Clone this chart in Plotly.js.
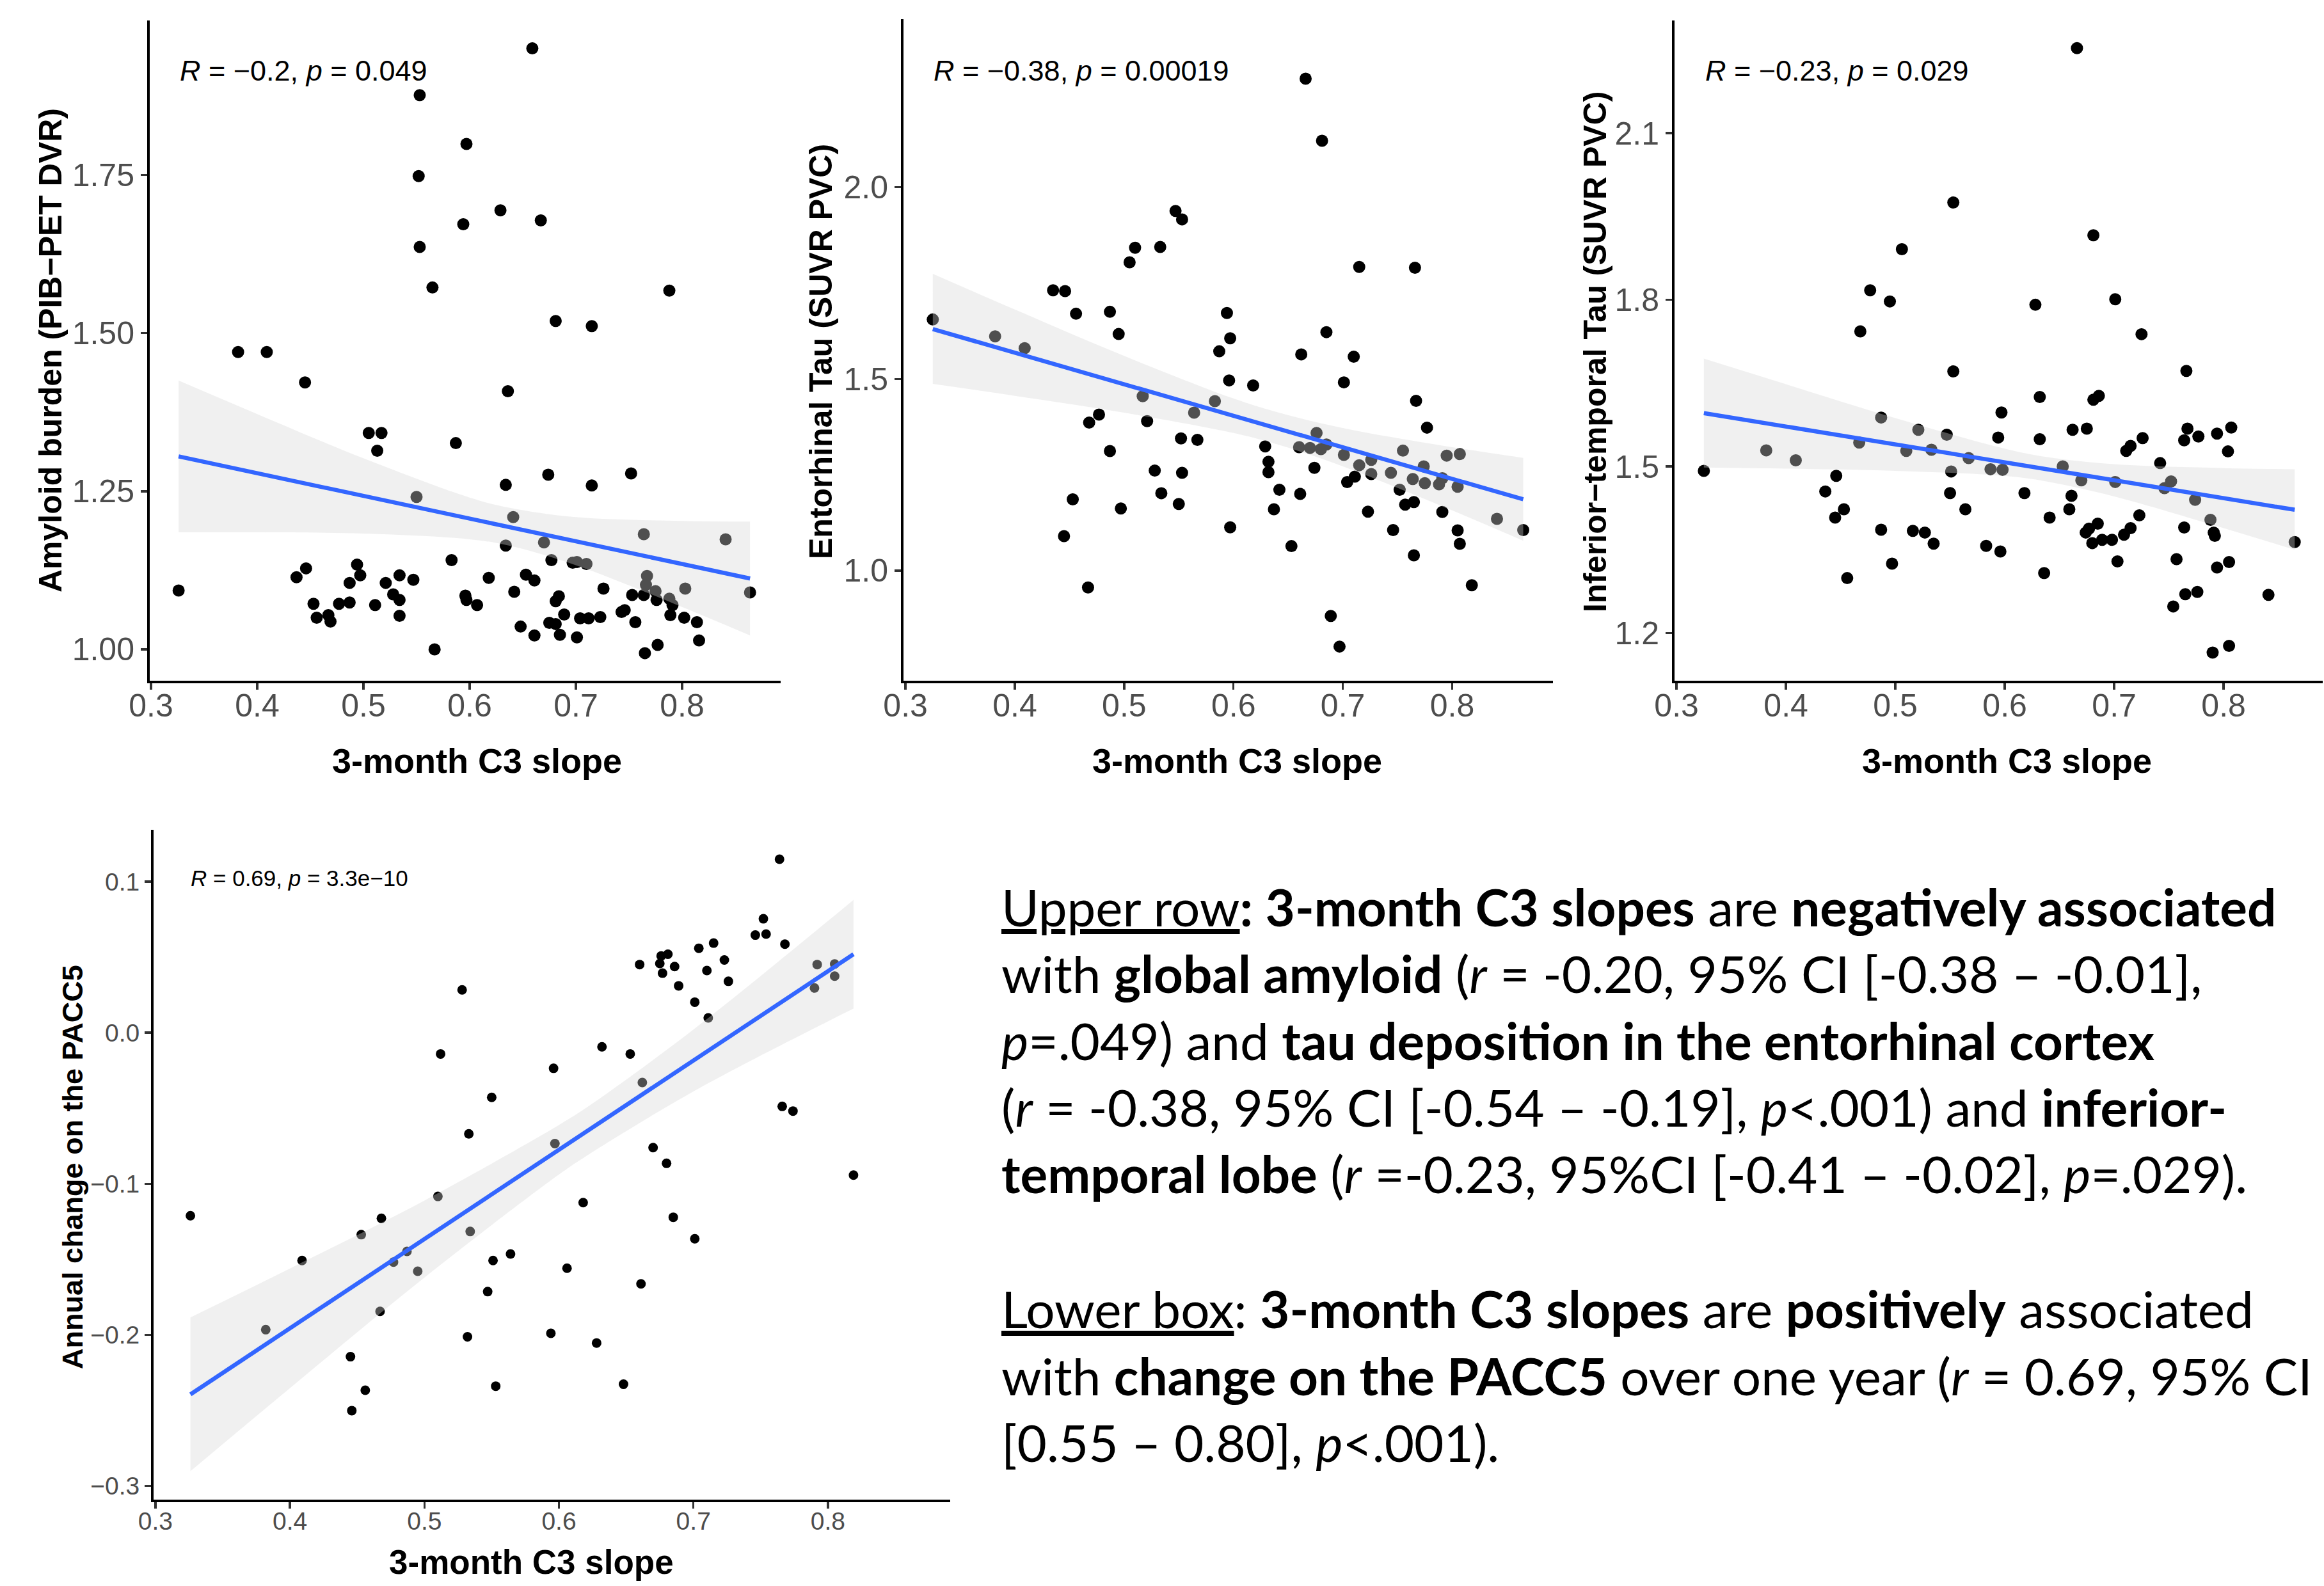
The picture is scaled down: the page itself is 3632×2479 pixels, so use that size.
<!DOCTYPE html>
<html>
<head>
<meta charset="utf-8">
<script src="https://cdn.plot.ly/plotly-3.0.1.min.js"></script>
<style>html,body{margin:0;padding:0;background:#fff;}#chart{width:3632px;height:2479px;}</style>
</head>
<body>
<div id="chart"></div>
<script>
// ---------- Panel 1: Amyloid burden ----------
const amyloidX = [0.659,0.553,0.597,0.552,0.629,0.594,0.667,0.553,0.565,0.788,0.681,0.715,0.382,0.409,0.445,0.636,0.505,0.517,0.513,0.587,0.674,0.752,0.634,0.715,0.550,0.641,0.764,0.841,0.634,0.670,0.677,0.697,0.701,0.710,0.583,0.326,0.437,0.446,0.453,0.456,0.467,0.469,0.477,0.487,0.487,0.494,0.497,0.511,0.521,0.528,0.534,0.534,0.534,0.547,0.567,0.596,0.597,0.607,0.618,0.642,0.653,0.661,0.648,0.661,0.675,0.681,0.681,0.684,0.689,0.685,0.701,0.704,0.712,0.723,0.726,0.743,0.746,0.753,0.756,0.764,0.765,0.767,0.766,0.775,0.776,0.777,0.788,0.791,0.789,0.802,0.803,0.814,0.816,0.864];
const amyloidY = [1.950,1.876,1.799,1.748,1.694,1.672,1.678,1.636,1.572,1.567,1.519,1.511,1.470,1.470,1.422,1.408,1.342,1.342,1.314,1.326,1.276,1.278,1.260,1.259,1.241,1.209,1.182,1.174,1.164,1.169,1.141,1.137,1.138,1.135,1.141,1.093,1.114,1.128,1.072,1.050,1.054,1.044,1.072,1.074,1.105,1.134,1.117,1.070,1.105,1.087,1.117,1.078,1.053,1.110,1.000,1.085,1.078,1.070,1.113,1.091,1.118,1.109,1.036,1.022,1.042,1.040,1.076,1.084,1.055,1.023,1.019,1.049,1.049,1.051,1.096,1.059,1.062,1.086,1.043,1.086,0.994,1.116,1.102,1.092,1.078,1.007,1.080,1.070,1.054,1.050,1.096,1.043,1.014,1.090];
const amyloidFitX = [0.326,0.864];
const amyloidFitY = [1.305,1.112];
const amyloidBandX = [0.326,0.4,0.5,0.6,0.637,0.7,0.8,0.864];
const amyloidBandUpper = [1.425,1.372,1.302,1.240,1.224,1.209,1.203,1.202];
const amyloidBandLower = [1.185,1.185,1.183,1.174,1.164,1.133,1.067,1.022];

// ---------- Panel 2: Entorhinal tau ----------
const entoX = [0.666,0.681,0.547,0.553,0.510,0.533,0.505,0.715,0.766,0.435,0.446,0.456,0.487,0.594,0.495,0.597,0.685,0.325,0.382,0.409,0.662,0.710,0.587,0.596,0.618,0.701,0.517,0.583,0.767,0.477,0.468,0.521,0.564,0.777,0.552,0.567,0.676,0.487,0.629,0.660,0.670,0.680,0.685,0.701,0.755,0.795,0.807,0.632,0.528,0.553,0.632,0.674,0.715,0.726,0.726,0.744,0.774,0.764,0.775,0.788,0.791,0.805,0.704,0.711,0.642,0.534,0.661,0.752,0.453,0.550,0.757,0.765,0.637,0.723,0.791,0.497,0.597,0.746,0.805,0.841,0.865,0.445,0.653,0.807,0.765,0.467,0.818,0.689,0.697];
const entoY = [2.283,2.121,1.938,1.916,1.842,1.844,1.804,1.792,1.790,1.731,1.729,1.670,1.675,1.672,1.617,1.606,1.622,1.655,1.611,1.580,1.564,1.558,1.572,1.496,1.483,1.491,1.455,1.442,1.443,1.407,1.386,1.390,1.412,1.373,1.345,1.341,1.359,1.312,1.324,1.322,1.320,1.317,1.329,1.302,1.313,1.300,1.304,1.284,1.261,1.255,1.257,1.268,1.275,1.289,1.252,1.255,1.272,1.239,1.228,1.225,1.241,1.219,1.231,1.245,1.211,1.202,1.200,1.211,1.186,1.174,1.172,1.179,1.160,1.154,1.153,1.162,1.113,1.106,1.105,1.135,1.106,1.090,1.064,1.070,1.040,0.956,0.962,0.882,0.802];
const entoFitX = [0.325,0.865];
const entoFitY = [1.630,1.186];
const entoBandX = [0.325,0.4,0.5,0.6,0.638,0.7,0.8,0.865];
const entoBandUpper = [1.774,1.681,1.560,1.449,1.415,1.372,1.322,1.294];
const entoBandLower = [1.487,1.456,1.412,1.359,1.331,1.272,1.157,1.078];

// ---------- Panel 3: Inferior-temporal tau ----------
const itX = [0.666,0.553,0.681,0.506,0.477,0.495,0.701,0.628,0.468,0.725,0.553,0.766,0.632,0.681,0.686,0.597,0.487,0.521,0.547,0.662,0.675,0.767,0.807,0.777,0.794,0.594,0.632,0.726,0.764,0.467,0.382,0.533,0.510,0.711,0.715,0.804,0.409,0.567,0.742,0.653,0.325,0.551,0.587,0.598,0.446,0.670,0.701,0.752,0.746,0.436,0.550,0.618,0.661,0.774,0.453,0.564,0.659,0.445,0.641,0.723,0.788,0.487,0.516,0.527,0.674,0.677,0.685,0.709,0.715,0.764,0.791,0.792,0.535,0.583,0.596,0.680,0.689,0.698,0.865,0.497,0.703,0.757,0.794,0.805,0.456,0.636,0.765,0.776,0.841,0.754,0.790,0.805];
const itY = [2.253,1.975,1.916,1.891,1.817,1.797,1.801,1.791,1.743,1.738,1.671,1.672,1.625,1.620,1.627,1.597,1.588,1.566,1.557,1.566,1.568,1.568,1.570,1.554,1.559,1.552,1.549,1.551,1.547,1.543,1.529,1.530,1.528,1.528,1.537,1.527,1.511,1.515,1.506,1.500,1.492,1.491,1.495,1.494,1.483,1.475,1.472,1.473,1.461,1.455,1.452,1.452,1.447,1.440,1.423,1.423,1.423,1.408,1.408,1.412,1.404,1.386,1.384,1.381,1.381,1.388,1.397,1.377,1.389,1.390,1.381,1.375,1.361,1.357,1.347,1.362,1.368,1.368,1.364,1.325,1.329,1.333,1.318,1.328,1.299,1.308,1.270,1.274,1.269,1.248,1.165,1.177];
const itFitX = [0.325,0.865];
const itFitY = [1.596,1.422];
const itBandX = [0.325,0.4,0.5,0.6,0.638,0.7,0.8,0.865];
const itBandUpper = [1.694,1.648,1.587,1.532,1.517,1.504,1.497,1.495];
const itBandLower = [1.498,1.496,1.492,1.483,1.473,1.446,1.389,1.350];

// ---------- Panel 4: PACC5 change ----------
const paccX = [0.764,0.752,0.746,0.754,0.768,0.715,0.704,0.681,0.676,0.675,0.660,0.686,0.677,0.710,0.723,0.726,0.689,0.528,0.701,0.711,0.792,0.805,0.805,0.790,0.632,0.653,0.512,0.596,0.662,0.550,0.766,0.774,0.533,0.597,0.670,0.680,0.819,0.510,0.618,0.326,0.468,0.685,0.534,0.453,0.701,0.564,0.487,0.409,0.477,0.551,0.495,0.606,0.661,0.547,0.467,0.382,0.594,0.532,0.628,0.445,0.648,0.553,0.456,0.446];
const paccY = [0.1148,0.0754,0.0646,0.0653,0.0586,0.0593,0.0559,0.0519,0.0508,0.0458,0.0451,0.0438,0.0394,0.0411,0.0481,0.0340,0.0310,0.0283,0.0202,0.0098,0.0451,0.0455,0.0374,0.0296,-0.0094,-0.0141,-0.0141,-0.0236,-0.0330,-0.0428,-0.0488,-0.0519,-0.0670,-0.0734,-0.0761,-0.0865,-0.0943,-0.1084,-0.1125,-0.1212,-0.1229,-0.1222,-0.1316,-0.1337,-0.1364,-0.1465,-0.1448,-0.1508,-0.1519,-0.1508,-0.1579,-0.1559,-0.1663,-0.1714,-0.1845,-0.1966,-0.1990,-0.2013,-0.2054,-0.2145,-0.2327,-0.2340,-0.2367,-0.2502];
const paccFitX = [0.326,0.819];
const paccFitY = [-0.2394,0.0519];
const paccBandX = [0.326,0.4,0.5,0.6,0.622,0.7,0.8,0.819];
const paccBandUpper = [-0.1885,-0.1561,-0.1111,-0.0611,-0.0487,0.0021,0.0739,0.0879];
const paccBandLower = [-0.2903,-0.2353,-0.1621,-0.0939,-0.0807,-0.0389,0.0075,0.0159];

// ---------- Ticks ----------
const xTickVals = [0.3,0.4,0.5,0.6,0.7,0.8];
const xTickText = ['0.3','0.4','0.5','0.6','0.7','0.8'];
const yTickVals1 = [1.00,1.25,1.50,1.75];
const yTickText1 = ['1.00','1.25','1.50','1.75'];
const yTickVals2 = [1.0,1.5,2.0];
const yTickText2 = ['1.0','1.5','2.0'];
const yTickVals3 = [1.2,1.5,1.8,2.1];
const yTickText3 = ['1.2','1.5','1.8','2.1'];
const yTickVals4 = [-0.3,-0.2,-0.1,0.0,0.1];
const yTickText4 = ['\u22120.3','\u22120.2','\u22120.1','0.0','0.1'];

const SANS = 'Liberation Sans, Arial, Helvetica, sans-serif';
const W = 3632, H = 2479;
const px = v => v / W;
const py = v => 1 - v / H;

function panelTraces(n, xs, ys, bx, bu, bl, fx, fy, msize) {
  const xa = n === 1 ? 'x' : 'x' + n, ya = n === 1 ? 'y' : 'y' + n;
  return [
    {type:'scatter', mode:'markers', x:xs, y:ys, xaxis:xa, yaxis:ya,
     marker:{color:'#000000', size:msize, line:{width:0}}, hoverinfo:'x+y', showlegend:false},
    {type:'scatter', mode:'lines', x:bx, y:bl, xaxis:xa, yaxis:ya,
     line:{width:0, shape:'spline', color:'rgba(0,0,0,0)'}, hoverinfo:'skip', showlegend:false},
    {type:'scatter', mode:'lines', x:bx, y:bu, xaxis:xa, yaxis:ya, fill:'tonexty',
     fillcolor:'rgba(214,214,214,0.37)', line:{width:0, shape:'spline', color:'rgba(0,0,0,0)'},
     hoverinfo:'skip', showlegend:false},
    {type:'scatter', mode:'lines', x:fx, y:fy, xaxis:xa, yaxis:ya,
     line:{color:'#3366FF', width:6.5}, hoverinfo:'skip', showlegend:false}
  ];
}

const data = [].concat(
  panelTraces(1, amyloidX, amyloidY, amyloidBandX, amyloidBandUpper, amyloidBandLower, amyloidFitX, amyloidFitY, 19),
  panelTraces(2, entoX, entoY, entoBandX, entoBandUpper, entoBandLower, entoFitX, entoFitY, 19),
  panelTraces(3, itX, itY, itBandX, itBandUpper, itBandLower, itFitX, itFitY, 19),
  panelTraces(4, paccX, paccY, paccBandX, paccBandUpper, paccBandLower, paccFitX, paccFitY, 15)
);

function axis(domain, range, anchor, vals, text, fsize, standoff) {
  return {domain:domain, range:range, anchor:anchor, showline:true, linecolor:'#000000', linewidth:4,
    ticks:'outside', ticklen:10, tickwidth:3.5, tickcolor:'#333333', tickmode:'array',
    tickvals:vals, ticktext:text, tickfont:{family:SANS, size:fsize, color:'#4D4D4D'},
    ticklabelstandoff: standoff || 0,
    showgrid:false, zeroline:false, fixedrange:true, layer:'above traces'};
}

const topY = [py(1064), py(32)];
const layout = {
  width: W, height: H, margin:{l:0, r:0, t:0, b:0, pad:0},
  paper_bgcolor:'#ffffff', plot_bgcolor:'rgba(0,0,0,0)', showlegend:false,
  font:{family:SANS, color:'#000000'},
  xaxis: axis([px(234), px(1220)], [0.2988, 0.8928], 'y', xTickVals, xTickText, 50, -18),
  yaxis: axis(topY, [0.9504, 1.9941], 'x', yTickVals1, yTickText1, 50),
  xaxis2: axis([px(1412), px(2427)], [0.2982, 0.8922], 'y2', xTickVals, xTickText, 50, -18),
  yaxis2: axis([py(1064), py(30)], [0.713, 2.438], 'x2', yTickVals2, yTickText2, 50),
  xaxis3: axis([px(2617), px(3630)], [0.2982, 0.8906], 'y3', xTickVals, xTickText, 50, -18),
  yaxis3: axis(topY, [1.1143, 2.3027], 'x3', yTickVals3, yTickText3, 50),
  xaxis4: axis([px(240), px(1485)], [0.2986, 0.8909], 'y4', xTickVals, xTickText, 39, -14),
  yaxis4: axis([py(2344), py(1297)], [-0.3091, 0.1343], 'x4', yTickVals4, yTickText4, 39),
  annotations: []
};

function ann(text, x, y, size, opts) {
  return Object.assign({xref:'paper', yref:'paper', x:px(x), y:py(y), text:text, showarrow:false,
    xanchor:'center', yanchor:'middle', font:{family:SANS, size:size, color:'#000000'}}, opts || {});
}

// axis titles
layout.annotations.push(
  ann('<b>3-month C3 slope</b>', 745, 1189, 54),
  ann('<b>3-month C3 slope</b>', 1934, 1189, 54),
  ann('<b>3-month C3 slope</b>', 3136, 1189, 54),
  ann('<b>3-month C3 slope</b>', 830, 2441, 53),
  ann('<b>Amyloid burden (PIB\u2212PET DVR)</b>', 79, 548, 50, {textangle:-90}),
  ann('<b>Entorhinal Tau (SUVR PVC)</b>', 1283, 550, 50, {textangle:-90}),
  ann('<b>Inferior\u2212temporal Tau (SUVR PVC)</b>', 2493, 550, 50, {textangle:-90}),
  ann('<b>Annual change on the PACC5</b>', 113, 1824, 45, {textangle:-90})
);
// correlation labels
layout.annotations.push(
  ann('<i>R</i> = \u22120.2, <i>p</i> = 0.049', 279, 110, 45, {xanchor:'left'}),
  ann('<i>R</i> = \u22120.38, <i>p</i> = 0.00019', 1457, 110, 45, {xanchor:'left'}),
  ann('<i>R</i> = \u22120.23, <i>p</i> = 0.029', 2663, 110, 45, {xanchor:'left'}),
  ann('<i>R</i> = 0.69, <i>p</i> = 3.3e\u221210', 296, 1372, 35, {xanchor:'left'})
);
// text block
const TXT = 'Lato, Open Sans, sans-serif';
const textLines = [
  '<u>Upper row</u><b>: 3-month C3 slopes</b> are <b>negatively associated</b>',
  'with <b>global amyloid</b> (<i>r</i> = -0.20, 95% CI [-0.38 \u2013 -0.01],',
  '<i>p</i>=.049) and <b>tau deposition in the entorhinal cortex</b>',
  '(<i>r</i> = -0.38, 95% CI [-0.54 \u2013 -0.19], <i>p</i>&lt;.001) and <b>inferior-</b>',
  '<b>temporal lobe</b> (<i>r</i> =-0.23, 95%CI [-0.41 \u2013 -0.02], <i>p</i>=.029).',
  '<u>Lower box</u>: <b>3-month C3 slopes</b> are <b>positively</b> associated',
  'with <b>change on the PACC5</b> over one year (<i>r</i> = 0.69, 95% CI',
  '[0.55 \u2013 0.80], <i>p</i>&lt;.001).'
];
const textCenters = [1417, 1521, 1626, 1730, 1834, 2045, 2150, 2254];
textLines.forEach((t, i) => {
  layout.annotations.push({xref:'paper', yref:'paper', x:px(1563), y:py(textCenters[i]), text:t,
    showarrow:false, xanchor:'left', yanchor:'middle', align:'left',
    font:{family:TXT, size:80, color:'#000000'}});
});

Plotly.newPlot('chart', data, layout, {staticPlot:true, displayModeBar:false});
</script>
</body>
</html>
